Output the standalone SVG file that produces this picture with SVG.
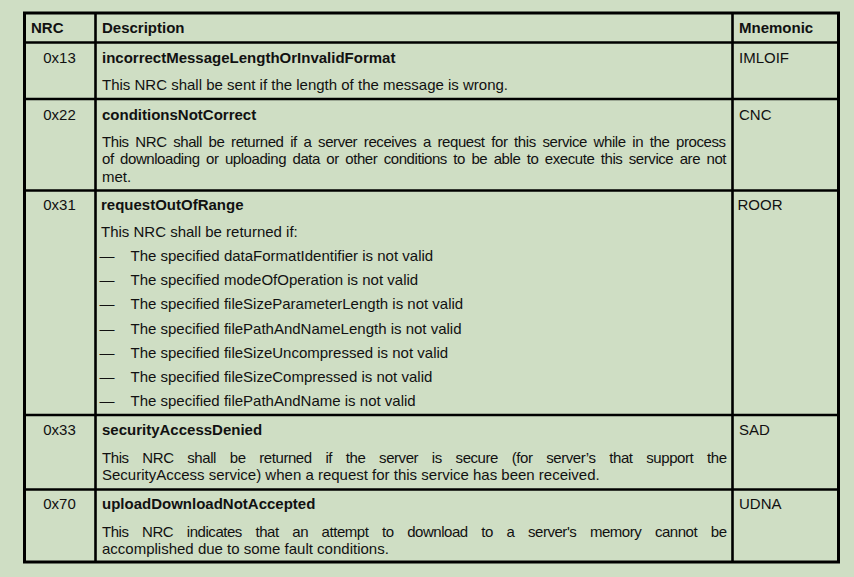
<svg xmlns="http://www.w3.org/2000/svg" width="854" height="577" viewBox="0 0 854 577">
<style>
  text { font-family: "Liberation Sans", Arial, sans-serif; font-size: 15px; fill: #111; }
  .b { font-weight: bold; }
  .c { text-anchor: middle; }
  .grid line { stroke: #000; stroke-width: 2.6; }
  .outer { fill: none; stroke: #000; stroke-width: 3; }
</style>
<rect x="0" y="0" width="854" height="577" fill="#cfdec4"/>

<g id="grid" class="grid">
  <rect class="outer" x="24.5" y="13" width="814" height="549"/>
  <line x1="95.5" y1="13" x2="95.5" y2="562"/>
  <line x1="732.5" y1="13" x2="732.5" y2="562"/>
  <line x1="24.5" y1="42.5" x2="838.5" y2="42.5"/>
  <line x1="24.5" y1="99" x2="838.5" y2="99"/>
  <line x1="24.5" y1="190.5" x2="838.5" y2="190.5"/>
  <line x1="24.5" y1="415" x2="838.5" y2="415"/>
  <line x1="24.5" y1="489.5" x2="838.5" y2="489.5"/>
</g>

<g id="header">
  <text class="b" x="31" y="33">NRC</text>
  <text class="b" x="102" y="33">Description</text>
  <text class="b" x="739" y="33">Mnemonic</text>
</g>

<g id="row-0x13">
  <text class="c" x="59.5" y="63">0x13</text>
  <text class="b" x="102" y="63">incorrectMessageLengthOrInvalidFormat</text>
  <text x="102" y="89.5">This NRC shall be sent if the length of the message is wrong.</text>
  <text x="739" y="63">IMLOIF</text>
</g>

<g id="row-0x22">
  <text class="c" x="59.5" y="119.5">0x22</text>
  <text class="b" x="102" y="119.5">conditionsNotCorrect</text>
  <text x="102" y="146.5" word-spacing="2.9" textLength="624" lengthAdjust="spacing">This NRC shall be returned if a server receives a request for this service while in the process</text>
  <text x="102" y="164" word-spacing="2.7" textLength="624.5" lengthAdjust="spacing">of downloading or uploading data or other conditions to be able to execute this service are not</text>
  <text x="102" y="182">met.</text>
  <text x="739" y="119.5">CNC</text>
</g>

<g id="row-0x31">
  <text class="c" x="59.5" y="210">0x31</text>
  <text class="b" x="101" y="210">requestOutOfRange</text>
  <text x="101" y="237">This NRC shall be returned if:</text>
  <g>
    <text x="99.5" y="261">—</text><text x="130.5" y="261">The specified dataFormatIdentifier is not valid</text>
    <text x="99.5" y="285.2">—</text><text x="130.5" y="285.2">The specified modeOfOperation is not valid</text>
    <text x="99.5" y="309.3">—</text><text x="130.5" y="309.3">The specified fileSizeParameterLength is not valid</text>
    <text x="99.5" y="333.5">—</text><text x="130.5" y="333.5">The specified filePathAndNameLength is not valid</text>
    <text x="99.5" y="357.7">—</text><text x="130.5" y="357.7">The specified fileSizeUncompressed is not valid</text>
    <text x="99.5" y="381.8">—</text><text x="130.5" y="381.8">The specified fileSizeCompressed is not valid</text>
    <text x="99.5" y="406">—</text><text x="130.5" y="406">The specified filePathAndName is not valid</text>
  </g>
  <text x="737.5" y="210">ROOR</text>
</g>

<g id="row-0x33">
  <text class="c" x="59.5" y="435">0x33</text>
  <text class="b" x="102" y="435">securityAccessDenied</text>
  <text x="102" y="462.5" word-spacing="10" textLength="625" lengthAdjust="spacing">This NRC shall be returned if the server is secure (for server’s that support the</text>
  <text x="102" y="480">SecurityAccess service) when a request for this service has been received.</text>
  <text x="739" y="435">SAD</text>
</g>

<g id="row-0x70">
  <text class="c" x="59.5" y="509">0x70</text>
  <text class="b" x="102" y="509">uploadDownloadNotAccepted</text>
  <text x="102" y="536.5" word-spacing="9.9" textLength="625" lengthAdjust="spacing">This NRC indicates that an attempt to download to a server's memory cannot be</text>
  <text x="102" y="554">accomplished due to some fault conditions.</text>
  <text x="739" y="509">UDNA</text>
</g>
</svg>
